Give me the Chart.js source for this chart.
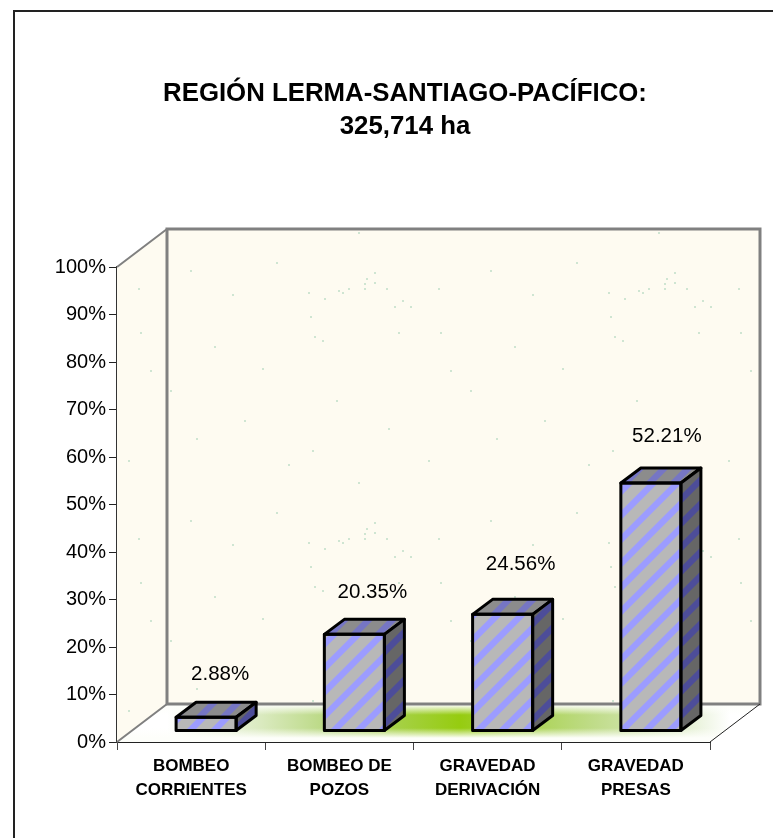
<!DOCTYPE html>
<html><head><meta charset="utf-8">
<style>html,body{margin:0;padding:0;background:#fff;overflow:hidden}canvas{display:block}</style>
<script src="https://cdn.jsdelivr.net/npm/chart.js@4"></script>
</head><body><canvas id="c" width="773" height="838"></canvas>
<script>
const titleLines = ["REGIÓN LERMA-SANTIAGO-PACÍFICO:", "325,714 ha"];
const categories = [["BOMBEO","CORRIENTES"],["BOMBEO DE","POZOS"],["GRAVEDAD","DERIVACIÓN"],["GRAVEDAD","PRESAS"]];
const values = [2.88, 20.35, 24.56, 52.21];
const valueLabels = ["2.88%","20.35%","24.56%","52.21%"];
const labelLift = [43, 42, 50, 47];
const labelShift = [14, 18, 18, 16];

const FONT = '"Liberation Sans", Arial, sans-serif';
const DX = 50, DY = 38, BX = 15, BY = 11, BARX = 20, BARY = 15;

function stripeTile(bg, fg){
  const s = 24, c = document.createElement('canvas'); c.width = c.height = s;
  const g = c.getContext('2d');
  g.fillStyle = bg; g.fillRect(0,0,s,s);
  g.fillStyle = fg;
  const w = 9;
  for (const o of [-s, 0, s]) {
    g.beginPath();
    g.moveTo(o, s); g.lineTo(o + s, 0); g.lineTo(o + s + w, 0); g.lineTo(o + w, s);
    g.closePath(); g.fill();
  }
  return g.createPattern(c, 'repeat');
}
function speckTile(){
  const c = document.createElement('canvas'); c.width = 300; c.height = 250;
  const g = c.getContext('2d');
  g.fillStyle = '#fefbf1'; g.fillRect(0,0,300,250);
  g.fillStyle = '#cfe5d2';
  [[8,42],[24,48],[38,40],[42,42],[48,38],[64,38],[66,28],[64,33],[74,22],[74,32],[86,38],[94,56],[102,50],[110,56],[138,38],
   [10,66],[14,86],[22,90],[98,82],[140,82],[190,20],[232,44],[276,12],[214,96],[262,118],[170,140],[36,150],[88,178],
   [128,210],[196,188],[244,170],[288,214],[58,232],[150,120],[12,200]].forEach(p => g.fillRect(p[0],p[1],2,2));
  return g.createPattern(c, 'repeat');
}

const scene = {
  id: 'scene',
  beforeDatasetsDraw(chart){
    const {ctx, chartArea:a} = chart;
    const L=a.left, R=a.right, T=a.top, B=a.bottom;
    const tex = speckTile();
    ctx.save();
    // floor
    ctx.beginPath(); ctx.moveTo(L,B); ctx.lineTo(R,B); ctx.lineTo(R+DX,B-DY); ctx.lineTo(L+DX,B-DY); ctx.closePath();
    ctx.fillStyle = '#fdfefa'; ctx.fill();
    ctx.save(); ctx.clip();
    const top = B-37, bot = B-4;
    const h = ctx.createLinearGradient(L+50, 0, R+20, 0);
    h.addColorStop(0,'#ffffff');
    h.addColorStop(0.16,'#dcebc3');
    h.addColorStop(0.3,'#b5d67a');
    h.addColorStop(0.42,'#a4d040');
    h.addColorStop(0.52,'#96cc10');
    h.addColorStop(0.62,'#a6d148');
    h.addColorStop(0.76,'#c0dc8a');
    h.addColorStop(0.9,'#dcebc5');
    h.addColorStop(1,'#ffffff');
    ctx.fillStyle = h; ctx.fillRect(L, top, R-L+DX, bot-top);
    const v = ctx.createLinearGradient(0, top, 0, bot);
    v.addColorStop(0,'rgba(253,254,250,1)');
    v.addColorStop(0.3,'rgba(253,254,250,0)');
    v.addColorStop(0.7,'rgba(253,254,250,0)');
    v.addColorStop(1,'rgba(253,254,250,1)');
    ctx.fillStyle = v; ctx.fillRect(L, top, R-L+DX, bot-top);
    ctx.restore();
    // left wall
    ctx.beginPath(); ctx.moveTo(L,T); ctx.lineTo(L+DX,T-DY); ctx.lineTo(L+DX,B-DY); ctx.lineTo(L,B); ctx.closePath();
    ctx.fillStyle = tex; ctx.fill();
    // back wall
    ctx.fillStyle = tex; ctx.fillRect(L+DX,T-DY,R-L,B-T);
    // gray edges
    ctx.strokeStyle = '#808080'; ctx.lineWidth = 3;
    ctx.strokeRect(L+DX,T-DY,R-L,B-T);
    ctx.lineWidth = 2;
    ctx.beginPath(); ctx.moveTo(L,T); ctx.lineTo(L+DX,T-DY); ctx.moveTo(L,B); ctx.lineTo(L+DX,B-DY); ctx.stroke();
    ctx.strokeStyle = '#222'; ctx.lineWidth = 1;
    ctx.beginPath(); ctx.moveTo(R,B); ctx.lineTo(R+DX,B-DY); ctx.stroke();
    ctx.restore();
  },
  beforeDatasetDraw(chart){ chart.ctx.save(); chart.ctx.translate(BX,-BY); },
  afterDatasetDraw(chart){ chart.ctx.restore(); },
  afterDatasetsDraw(chart){
    const {ctx} = chart;
    const topFill = stripeTile('#8c8c8c','#7676c4');
    const sideFill = stripeTile('#666666','#4d4d99');
    chart.getDatasetMeta(0).data.forEach((bar,i) => {
      const l = bar.x - bar.width/2 + BX, r = bar.x + bar.width/2 + BX;
      const t = bar.y - BY, b = bar.base - BY;
      ctx.save();
      ctx.lineWidth = 3; ctx.strokeStyle = '#000'; ctx.lineJoin = 'round';
      ctx.beginPath(); ctx.moveTo(l,t); ctx.lineTo(l+BARX,t-BARY); ctx.lineTo(r+BARX,t-BARY); ctx.lineTo(r,t); ctx.closePath();
      ctx.fillStyle = topFill; ctx.fill(); ctx.stroke();
      ctx.beginPath(); ctx.moveTo(r,t); ctx.lineTo(r+BARX,t-BARY); ctx.lineTo(r+BARX,b-BARY); ctx.lineTo(r,b); ctx.closePath();
      ctx.fillStyle = sideFill; ctx.fill(); ctx.stroke();
      ctx.strokeRect(l,t,r-l,b-t);
      ctx.fillStyle = '#000'; ctx.font = '20.5px ' + FONT; ctx.textAlign = 'center'; ctx.textBaseline = 'middle';
      ctx.fillText(valueLabels[i], bar.x + BX + labelShift[i], bar.y - BY - labelLift[i]);
      ctx.restore();
    });
  },
  afterDraw(chart){
    const {ctx} = chart;
    ctx.save();
    ctx.strokeStyle = '#222'; ctx.lineWidth = 2;
    ctx.beginPath(); ctx.moveTo(14,838); ctx.lineTo(14,11); ctx.lineTo(773,11); ctx.stroke();
    ctx.fillStyle = '#000'; ctx.font = 'bold 25.8px ' + FONT; ctx.textAlign = 'center'; ctx.textBaseline = 'middle';
    titleLines.forEach((s,i) => ctx.fillText(s, 405, 94 + i*33));
    ctx.restore();
  }
};

new Chart(document.getElementById('c'), {
  type: 'bar',
  data: { labels: categories, datasets: [{
    data: values,
    backgroundColor: stripeTile('#b8b8b8','#9c9cff'),
    borderWidth: 0,
    barPercentage: 0.405, categoryPercentage: 1
  }]},
  plugins: [scene],
  options: {
    responsive: false, animation: false,
    layout: { padding: { left: 0, top: 267, right: 63, bottom: 0 } },
    plugins: { legend: {display:false}, tooltip: {enabled:false}, title:{display:false} },
    scales: {
      x: {
        afterFit(s){ s.height = 96; },
        border: { color:'#222', width:1 },
        grid: { drawOnChartArea:false, drawTicks:true, tickLength:8, color:'#444', offset:true },
        ticks: { color:'#000', font:{family:FONT, weight:'bold', size:17, lineHeight:1.41}, maxRotation:0, autoSkip:false, padding:4 }
      },
      y: {
        min:0, max:100,
        afterFit(s){ s.width = 117; },
        border: { color:'#333', width:2 },
        grid: { drawOnChartArea:false, drawTicks:true, tickLength:8, color:'#222' },
        ticks: { stepSize:10, color:'#000', font:{family:FONT, size:20}, padding:3, callback:v => v + '%' }
      }
    }
  }
});
</script></body></html>
